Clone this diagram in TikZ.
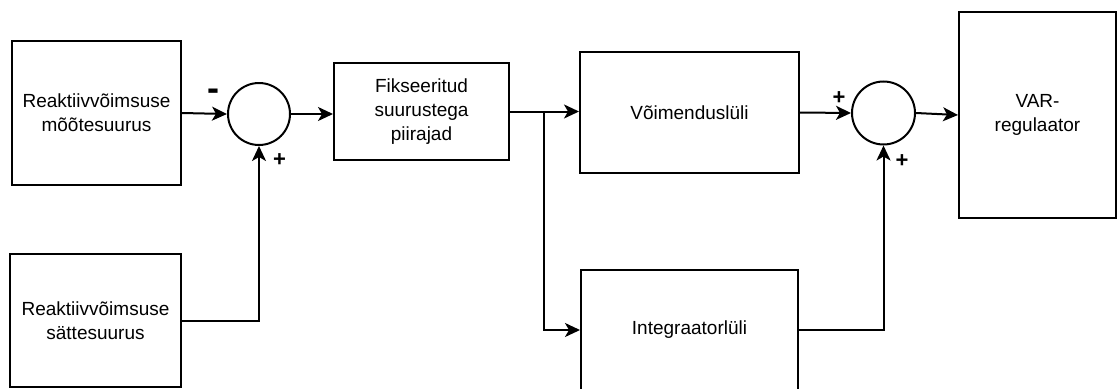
\documentclass[tikz,border=0pt]{standalone}
\usepackage{fontspec}
\setmainfont{Liberation Sans}
\usetikzlibrary{arrows.meta}
\begin{document}
\begin{tikzpicture}[x=1pt,y=-1pt,
  every node/.style={font=\fontsize{19}{24}\selectfont},
  block/.style={draw,line width=2pt,rectangle,inner sep=0pt,align=center},
  sumnode/.style={draw,line width=2pt,circle,inner sep=0pt,minimum size=62pt},
  link/.style={line width=2pt,-{Stealth[length=15pt,width=14pt,inset=4pt]}},
  sign/.style={font=\fontsize{22}{22}\selectfont\bfseries,inner sep=0pt},
  minus/.style={font=\fontsize{36}{36}\selectfont\bfseries,inner sep=0pt}]
\clip (0,0) rectangle (1118,388);
\fill[white] (0,0) rectangle (1118,388);

% blocks
\node[block,minimum width=169pt,minimum height=144pt] (meas) at (96.5,113) {Reaktiivvõimsuse\\mõõtesuurus};
\node[block,minimum width=171pt,minimum height=133pt] (ref) at (95.5,320.5) {Reaktiivvõimsuse\\sättesuurus};
\node[sumnode] (s1) at (259,114) {};
\node[block,minimum width=175pt,minimum height=97pt] (lim) at (421.5,111.5) {Fikseeritud\\suurustega\\piirajad};
\node[block,minimum width=219pt,minimum height=121pt] (gain) at (689.5,112.5) {Võimenduslüli};
\node[block,minimum width=217pt,minimum height=120pt] (integ) at (689.5,330) {Integraatorlüli};
\node[sumnode,minimum size=63pt] (s2) at (883.5,113) {};
\node[block,minimum width=157pt,minimum height=206pt] (var) at (1037.5,115) {VAR-\\regulaator};

% signs at the summing junctions
\node[minus] (m1) at (213,95) {-};
\node[sign] (p1) at (279.5,160) {+};
\node[sign] (p2) at (839,98) {+};
\node[sign] (p3) at (902,161) {+};

% branch point after the limiter
\coordinate (br) at (544,111.5);

% connectors
\draw[link] (meas.east) -- (s1.west);
\draw[link] (ref.east) -| (s1.south);
\draw[link] (s1.east) -- (s1.east -| lim.west);
\draw[link] (lim.east) -- (lim.east -| gain.west);
\draw[link] (br) |- (integ.west);
\draw[link] (gain.east) -- (s2.west);
\draw[link] (integ.east) -| (s2.south);
\draw[link] (s2.east) -- (var.west);
\end{tikzpicture}
\end{document}
